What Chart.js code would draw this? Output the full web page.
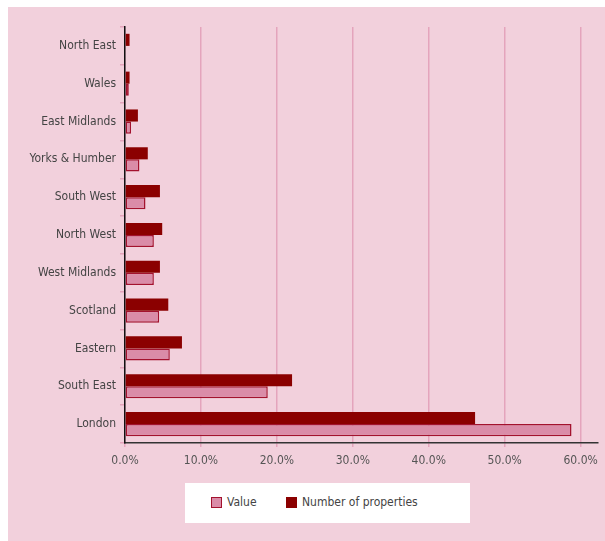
<!DOCTYPE html>
<html>
<head>
<meta charset="utf-8">
<script src="https://cdn.jsdelivr.net/npm/chart.js@4"></script>
<style>
  html, body { margin: 0; padding: 0; background: #fff; }
  #panel { position: absolute; left: 8px; top: 7px; width: 597px; height: 534px; background: #f2d0dc; }
  #wrap { position: absolute; left: 0; top: 0; width: 597px; height: 470px; }
  #legend {
    position: absolute; left: 177px; top: 476px; width: 285px; height: 40px;
    background: #fff; font: 12px "DejaVu Sans Condensed", sans-serif; color: #444;
  }
  #legend span.sw { position: absolute; top: 14px; width: 11px; height: 11px; box-sizing: border-box; }
  #legend span.tx { position: absolute; top: 12px; }
</style>
</head>
<body>
<div id="panel">
  <div id="wrap"><canvas id="regionChart"></canvas></div>
  <div id="legend">
    <span class="sw" style="left:26px;background:#da8ca8;border:1.5px solid #a3122e"></span>
    <span class="tx" style="left:42px">Value</span>
    <span class="sw" style="left:101px;background:#8b0000;border:1px solid #8b0000"></span>
    <span class="tx" style="left:117px">Number of properties</span>
  </div>
</div>
<script>
(function () {
  let regions = ["North East", "Wales", "East Midlands", "Yorks & Humber", "South West", "North West",
    "West Midlands", "Scotland", "Eastern", "South East", "London"];
  let propertyShare = [0.6, 0.6, 1.7, 3.0, 4.6, 4.9, 4.6, 5.7, 7.5, 22.0, 46.1];
  let valueShare = [0.1, 0.5, 0.8, 1.9, 2.7, 3.8, 3.8, 4.5, 5.9, 18.8, 58.8];
  let xTicks = [0, 10, 20, 30, 40, 50, 60];

  const labelFont = { family: "'DejaVu Sans Condensed', sans-serif", size: 12 };

  var ctx = document.getElementById("regionChart").getContext("2d");
  new Chart(ctx, {
    type: "bar",
    data: {
      labels: regions,
      datasets: [
        {
          label: "Number of properties",
          data: propertyShare,
          backgroundColor: "#8b0000",
          borderColor: "#8b0000",
          borderWidth: 0,
        },
        {
          label: "Value",
          data: valueShare,
          backgroundColor: "#da8ca8",
          borderColor: "#a3122e",
          borderWidth: 1.5,
          borderSkipped: false,
        },
      ],
    },
    options: {
      indexAxis: "y",
      responsive: true,
      maintainAspectRatio: false,
      animation: false,
      categoryPercentage: 0.64,
      barPercentage: 1.0,
      layout: { padding: { top: 20, right: 6, left: 0, bottom: 0 } },
      plugins: { legend: { display: false }, tooltip: { enabled: false } },
      scales: {
        x: {
          min: 0,
          max: 62.3,
          afterBuildTicks: (scale) => {
            scale.ticks = xTicks.map((v) => ({ value: v }));
          },
          afterFit: (scale) => { scale.height = 34; },
          grid: { color: "#e4a4bc", lineWidth: 1.5, tickLength: 4, tickColor: "#e4a4bc" },
          border: { color: "#333", width: 1.5 },
          ticks: {
            color: "#555",
            font: labelFont,
            padding: 7,
            maxRotation: 0,
            callback: (v) => Number(v).toFixed(1) + "%",
          },
        },
        y: {
          afterFit: (scale) => { scale.width = 117; },
          grid: { drawOnChartArea: false, offset: true, tickLength: 5, color: "#e4a4bc", lineWidth: 1.5 },
          border: { color: "#111", width: 1.5 },
          ticks: { color: "#444", font: labelFont, padding: 4 },
        },
      },
    },
  });
})();
</script>
</body>
</html>
